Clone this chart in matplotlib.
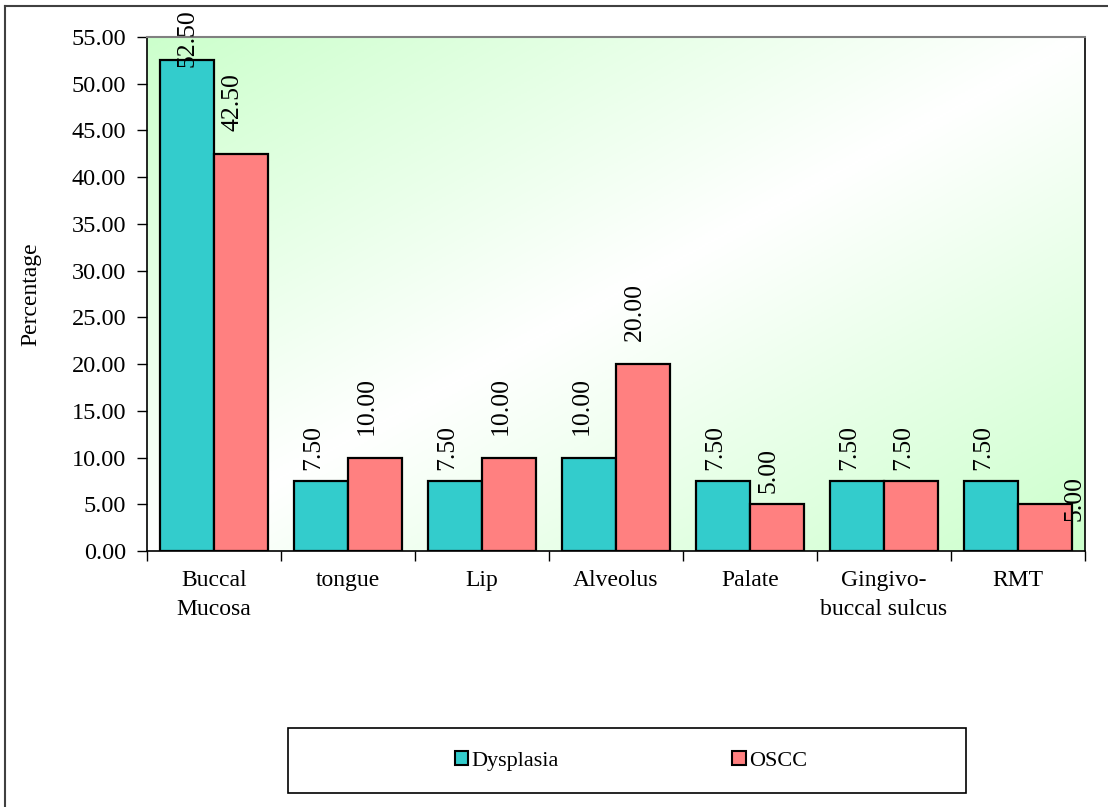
import numpy as np
import matplotlib.pyplot as plt
from matplotlib.patches import Rectangle, Patch
from matplotlib.lines import Line2D
from matplotlib.colors import LinearSegmentedColormap

plt.rcParams['font.family'] = ['Liberation Serif', 'DejaVu Serif']

sites = ["Buccal\nMucosa", "tongue", "Lip", "Alveolus", "Palate",
         "Gingivo-\nbuccal sulcus", "RMT"]
dysplasia = [52.50, 7.50, 7.50, 10.00, 7.50, 7.50, 7.50]
oscc = [42.50, 10.00, 10.00, 20.00, 5.00, 7.50, 5.00]
series_names = ["Dysplasia", "OSCC"]
yticks = [0, 5, 10, 15, 20, 25, 30, 35, 40, 45, 50, 55]

teal = "#33CCCC"
salmon = "#FF8080"

W, H = 1108, 807
PT = 0.72  # points per pixel at dpi 100
fig = plt.figure(figsize=(W / 100, H / 100), dpi=100)
ax = fig.add_axes([147 / W, 1 - 551 / H, (1085 - 147) / W, (551 - 37) / H])

# diagonal green/white/green fill behind the bars
gx, gy = np.meshgrid(np.linspace(0, 1, 300), np.linspace(0, 1, 300))
shade = np.abs(gx + gy - 1)
cmap = LinearSegmentedColormap.from_list("bg", ["#FFFFFF", "#CCFFCC"])
ax.imshow(shade, cmap=cmap, extent=[0, 1, 0, 1], transform=ax.transAxes,
          aspect="auto", zorder=0, vmin=0, vmax=1)

x = np.arange(len(sites))
w = 0.4
b1 = ax.bar(x - w / 2, dysplasia, w, color=teal, edgecolor="black",
            linewidth=1.6, zorder=2, label=series_names[0])
b2 = ax.bar(x + w / 2, oscc, w, color=salmon, edgecolor="black",
            linewidth=1.6, zorder=2, label=series_names[1])

ax.set_xlim(-0.5, len(sites) - 0.5)
ax.set_ylim(0, 55)
ax.set_yticks(yticks)
ax.set_yticklabels([f"{v:.2f}" for v in yticks], fontsize=17.5)
ax.set_xticks(x)
ax.set_xticklabels(sites, fontsize=17, linespacing=1.45)
ax.tick_params(axis="x", length=0, pad=14)
ax.set_xticks(np.arange(len(sites) + 1) - 0.5, minor=True)
ax.tick_params(axis="x", which="minor", length=7, direction="out", width=1)
ax.tick_params(axis="y", length=7, direction="out", width=1, pad=8)
ax.set_ylabel("Percentage", fontsize=17, labelpad=22)

for side in ["left", "bottom", "right"]:
    ax.spines[side].set_color("black")
    ax.spines[side].set_linewidth(1.2)
ax.spines["top"].set_color("#808080")
ax.spines["top"].set_linewidth(1.5)

# value labels above bars; the ones near the plot edge get nudged inward
nudge = {(0, 0): (0, -7), (1, 6): (30, -17)}
for s, bars in enumerate([b1, b2]):
    for i, bar in enumerate(bars):
        h = bar.get_height()
        text = f"{h:.2f}"
        gap = 11 if len(text) == 4 else 23
        dx, dy = nudge.get((s, i), (-8, gap))
        ax.annotate(text, (bar.get_x() + bar.get_width() / 2, h),
                    xytext=(dx * PT, dy * PT), textcoords="offset points",
                    rotation=90, ha="center", va="bottom", fontsize=18.5,
                    annotation_clip=False, zorder=3)

# legend box below the chart
fig.patches.append(Rectangle((288 / W, 1 - 793 / H), (966 - 288) / W, 65 / H,
                             transform=fig.transFigure, fill=False,
                             edgecolor="black", linewidth=1.2))
handles = [Patch(facecolor=teal, edgecolor="black", linewidth=1.5),
           Patch(facecolor=salmon, edgecolor="black", linewidth=1.5)]
fig.legend(handles, series_names, loc="center", bbox_to_anchor=(631 / W, 1 - 761 / H),
           ncol=2, frameon=False, fontsize=16, handlelength=0.6, handleheight=0.6,
           handletextpad=0.15, columnspacing=7.8)

# outer chart frame (top and left edges)
fig.add_artist(Line2D([5 / W, 5 / W], [0, 1 - 6 / H], transform=fig.transFigure,
                      color="#404040", linewidth=1.5))
fig.add_artist(Line2D([5 / W, 1], [1 - 6 / H, 1 - 6 / H], transform=fig.transFigure,
                      color="#404040", linewidth=1.5))

fig.savefig("out.png", dpi=100)
